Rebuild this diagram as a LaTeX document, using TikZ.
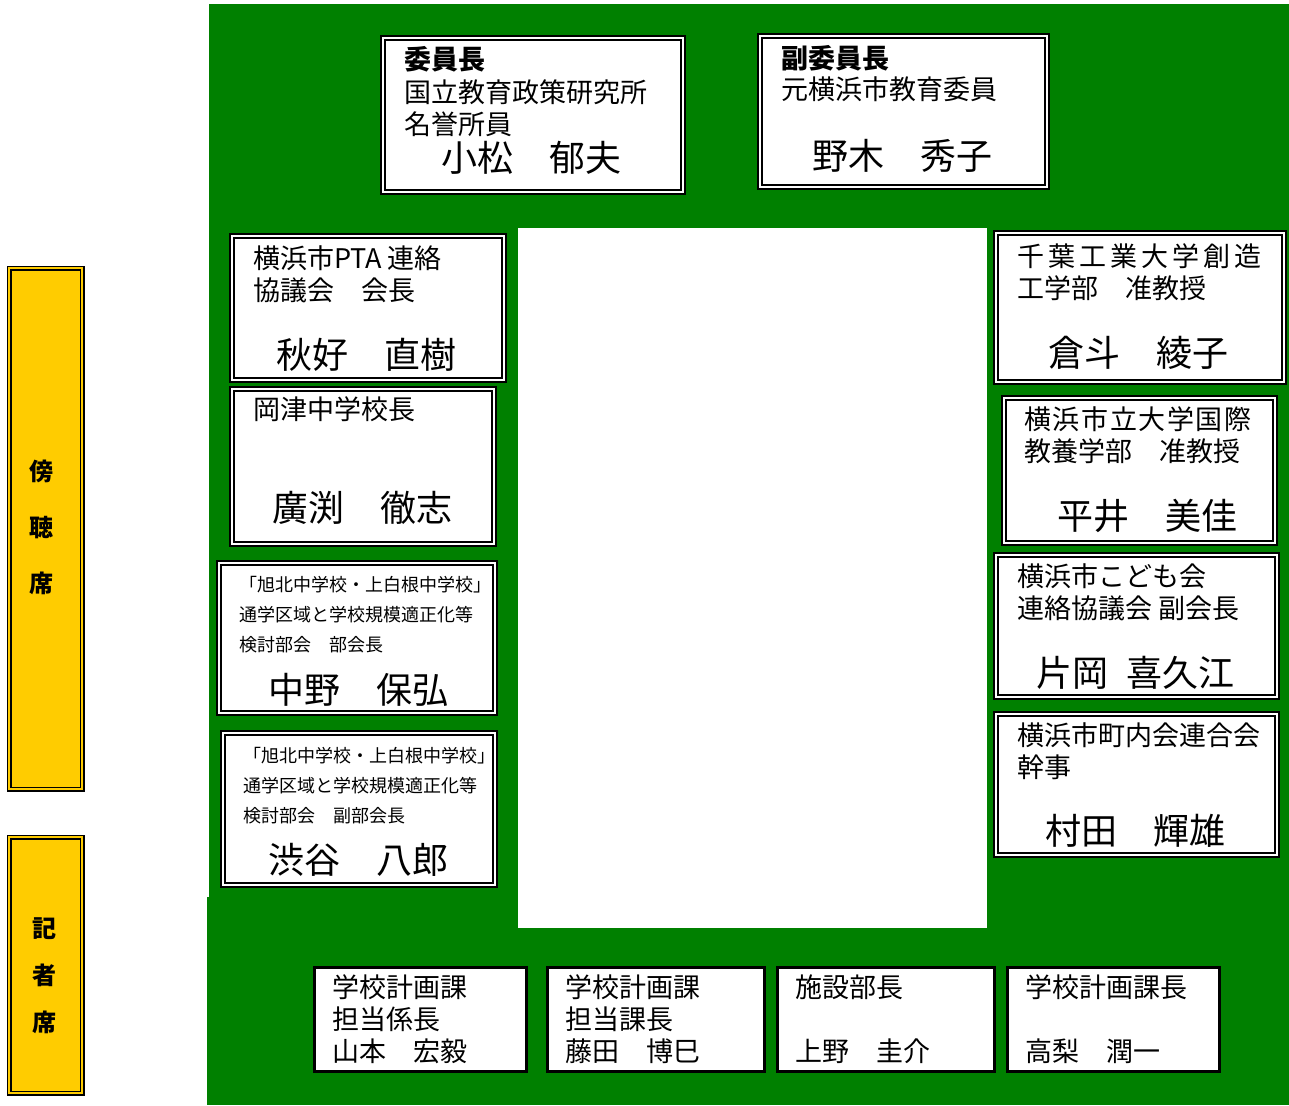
\documentclass[tikz,border=0pt]{standalone}
\usepackage{fontspec}
\setmainfont{Noto Sans CJK JP}
\tikzset{>=stealth}
\definecolor{floorgreen}{HTML}{008000}
\definecolor{seatyellow}{HTML}{FFCC00}

\begin{document}
\begin{tikzpicture}[x=1pt, y=-1pt,
  dbox/.style={draw, fill=white, line width=2.2pt, double=white, double distance=2pt, inner sep=0pt, outer sep=0pt, anchor=north west},
  sbox/.style={draw, fill=white, line width=3pt, inner sep=0pt, outer sep=0pt, anchor=north west, minimum height=104},
  ybox/.style={draw, fill=seatyellow, line width=1.6pt, double=seatyellow, double distance=2pt, inner sep=0pt, anchor=north west, minimum width=73},
  lbl/.style={anchor=base west, inner sep=0pt, align=left, font=\fontsize{27}{32}\selectfont},
  small/.style={lbl, font=\fontsize{18}{30}\selectfont},
  who/.style={anchor=base west, inner sep=0pt, font=\fontsize{36}{40}\selectfont},
  side/.style={inner sep=0pt, align=center, font=\bfseries\fontsize{24}{56}\selectfont}]
\useasboundingbox (0,0) rectangle (1289,1105);
% floor and table
\fill[floorgreen] (209,4) rectangle (1289,897);
\fill[floorgreen] (207,897) rectangle (1289,1105);
\fill[white] (518,228) rectangle (987,928);

% chair and vice chair (label nodes sit on their last baseline)
\node[dbox, minimum width=300, minimum height=154] (chair) at (383,38) {};
\node[lbl] (chairT) at (404,134) {\textbf{委員長}\\国立教育政策研究所\\名誉所員};
\node[who] (chairN) at (441,171) {小松　郁夫};
\node[dbox, minimum width=287, minimum height=151] (vice) at (760,36) {};
\node[lbl] (viceT) at (781,100) {\textbf{副委員長}\\元横浜市教育委員};
\node[who] (viceN) at (812,169) {野木　秀子};

% left members
\node[dbox, minimum width=272, minimum height=144] (pta) at (232,236) {};
\node[lbl] (ptaT) at (253,300) {横浜市PTA 連絡\\協議会　会長};
\node[who] (ptaN) at (276,368) {秋好　直樹};
\node[dbox, minimum width=262, minimum height=155] (okatsu) at (232,389) {};
\node[lbl] (okatsuT) at (253,419) {岡津中学校長};
\node[who] (okatsuN) at (272,521) {廣渕　徹志};
\node[dbox, minimum width=276, minimum height=150] (nakano) at (219,563) {};
\node[small] (nakanoT) at (239,651) {「旭北中学校・上白根中学校」\\通学区域と学校規模適正化等\\検討部会　部会長};
\node[who] (nakanoN) at (268,703) {中野　保弘};
\node[dbox, minimum width=272, minimum height=152] (shibuya) at (223,733) {};
\node[small] (shibuyaT) at (243,822) {「旭北中学校・上白根中学校」\\通学区域と学校規模適正化等\\検討部会　副部会長};
\node[who] (shibuyaN) at (268,873) {渋谷　八郎};

% right members
\node[dbox, minimum width=288, minimum height=149] (kurato) at (996,233) {};
\node[lbl] (kuratoT) at (1017,298) {{\addfontfeature{LetterSpace=15}千葉工業大学創造}\\工学部　准教授};
\node[who] (kuratoN) at (1048,366) {倉斗　綾子};
\node[dbox, minimum width=271, minimum height=145] (hirai) at (1004,398) {};
\node[lbl] (hiraiT) at (1024,461) {{\addfontfeature{LetterSpace=6}横浜市立大学国際}\\教養学部　准教授};
\node[who] (hiraiN) at (1057,529) {平井　美佳};
\node[dbox, minimum width=281, minimum height=142] (kataoka) at (996,555) {};
\node[lbl] (kataokaT) at (1017,618) {横浜市こども会\\連絡協議会 副会長};
\node[who] (kataokaN) at (1036,686) {片岡\hspace{.5em}喜久江};
\node[dbox, minimum width=281, minimum height=141] (murata) at (996,714) {};
\node[lbl] (murataT) at (1017,777) {横浜市町内会連合会\\幹事};
\node[who] (murataN) at (1045,844) {村田　輝雄};

% secretariat
\node[sbox, minimum width=212] (staffA) at (314.5,967.5) {};
\node[lbl] (staffAT) at (332,1061) {学校計画課\\担当係長\\山本　宏毅};
\node[sbox, minimum width=217] (staffB) at (547.5,967.5) {};
\node[lbl] (staffBT) at (565,1061) {学校計画課\\担当課長\\藤田　博巳};
\node[sbox, minimum width=217] (staffC) at (777.5,967.5) {};
\node[lbl] (staffCT) at (795,1061) {施設部長\\\mbox{}\\上野　圭介};
\node[sbox, minimum width=212] (staffD) at (1007.5,967.5) {};
\node[lbl] (staffDT) at (1025,1061) {学校計画課長\\\mbox{}\\高梨　潤一};

% gallery and press seats
\node[ybox, minimum height=521] (gallery) at (8.5,267.5) {};
\node[side] (galleryT) at (41,527) {傍\\聴\\席};
\node[ybox, minimum height=256] (press) at (8.5,836.5) {};
\node[side, font=\bfseries\fontsize{24}{47}\selectfont] (pressT) at (44,976) {記\\者\\席};
\end{tikzpicture}
\end{document}
